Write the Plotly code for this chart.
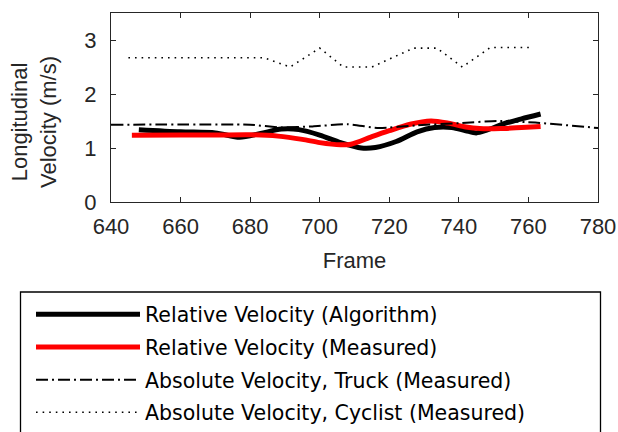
import plotly.graph_objects as go

# ---- data ----
alg_frame = [648, 660, 670, 677, 683, 689, 694, 700, 706, 712, 716, 722, 728, 733, 738, 742, 745, 748, 753, 758, 763.5]
alg_vel   = [1.34, 1.30, 1.28, 1.20, 1.27, 1.35, 1.34, 1.24, 1.10, 1.00, 1.01, 1.12, 1.30, 1.38, 1.38, 1.32, 1.28, 1.33, 1.45, 1.54, 1.63]

meas_frame = [646, 660, 670, 680, 688, 695, 700, 706, 709, 715, 720, 726, 732, 737, 742, 746, 752, 758, 763.5]
meas_vel   = [1.235, 1.24, 1.24, 1.245, 1.22, 1.16, 1.10, 1.06, 1.07, 1.21, 1.32, 1.44, 1.50, 1.46, 1.39, 1.36, 1.36, 1.38, 1.40]

truck_frame = [640, 680, 689, 698, 708, 717, 728, 740, 751, 762, 780]
truck_vel   = [1.43, 1.43, 1.38, 1.40, 1.44, 1.37, 1.42, 1.46, 1.50, 1.47, 1.37]

cyc_frame = [645, 684, 691.5, 700, 706.8, 715, 727, 733.7, 741, 749, 761.5]
cyc_vel   = [2.67, 2.67, 2.50, 2.85, 2.50, 2.50, 2.85, 2.85, 2.50, 2.86, 2.86]

names = ["Relative Velocity (Algorithm)", "Relative Velocity (Measured)",
         "Absolute Velocity, Truck (Measured)", "Absolute Velocity, Cyclist (Measured)"]
x_ticks = [640, 660, 680, 700, 720, 740, 760, 780]
y_ticks = [0, 1, 2, 3]

FONT = "Liberation Sans, Arial, Helvetica, sans-serif"
LFONT = "DejaVu Sans, Liberation Sans, sans-serif"
AX = "#262626"

fig = go.Figure()
fig.add_trace(go.Scatter(x=alg_frame, y=alg_vel, mode="lines", name=names[0], legendgroup="a",
                         line=dict(color="black", width=5, shape="spline", smoothing=0.8)))
fig.add_trace(go.Scatter(x=meas_frame, y=meas_vel, mode="lines", name=names[1], legendgroup="b",
                         line=dict(color="#ff0000", width=5, shape="spline", smoothing=0.8)))
fig.add_trace(go.Scatter(x=truck_frame, y=truck_vel, mode="lines", name=names[2], legendgroup="c",
                         line=dict(color="black", width=2, dash="12px,4px,2px,4px", shape="spline", smoothing=0.5)))
fig.add_trace(go.Scatter(x=cyc_frame, y=cyc_vel, mode="lines", name=names[3], legendgroup="d",
                         line=dict(color="black", width=1.6, dash="1.6px,5px")))

W, H = 618, 432
L, R, T, B = 111, 20, 13, 230
pw = W - L - R
ph = H - T - B

def px_x(p):
    return (p - L) / pw

def px_y(p):
    return (H - B - p) / ph

fig.update_layout(
    width=W, height=H,
    margin=dict(l=L, r=R, t=T, b=B, autoexpand=False),
    paper_bgcolor="white", plot_bgcolor="white",
    font=dict(family=FONT, size=22, color=AX),
    xaxis=dict(range=[640, 780], tickvals=x_ticks, ticks="inside", ticklen=5, tickcolor=AX,
               showline=True, linecolor=AX, linewidth=1.3, mirror="ticks", showgrid=False,
               zeroline=False, ticklabelstandoff=4,
               title=dict(text="Frame", font=dict(size=22, color=AX), standoff=15),
               tickfont=dict(size=22, color=AX)),
    yaxis=dict(range=[0, 3.5], tickvals=y_ticks, ticks="inside", ticklen=5, tickcolor=AX,
               showline=True, linecolor=AX, linewidth=1.3, mirror="ticks", showgrid=False,
               zeroline=False, ticklabelstandoff=9, tickfont=dict(size=22, color=AX)),
    showlegend=True,
    legend=dict(x=px_x(31), y=px_y(294.5), xanchor="left", yanchor="top",
                bgcolor="rgba(0,0,0,0)", borderwidth=0, itemwidth=104,
                tracegroupgap=3, traceorder="grouped",
                font=dict(family=LFONT, size=20.5, color="black")),
    annotations=[dict(text="Longitudinal<br>Velocity (m/s)", textangle=-90,
                      xref="paper", yref="paper", x=px_x(34), y=px_y(122),
                      xanchor="center", yanchor="middle", showarrow=False,
                      font=dict(family=FONT, size=22, color=AX))],
    shapes=[dict(type="rect", xref="paper", yref="paper",
                 x0=px_x(20.5), x1=px_x(600.5), y0=px_y(292), y1=px_y(445),
                 line=dict(color="black", width=1.3), fillcolor="rgba(0,0,0,0)")],
)

fig.write_html("out.html", config={"displayModeBar": False},
               post_script="document.body.style.margin='0';document.body.style.padding='0';")
